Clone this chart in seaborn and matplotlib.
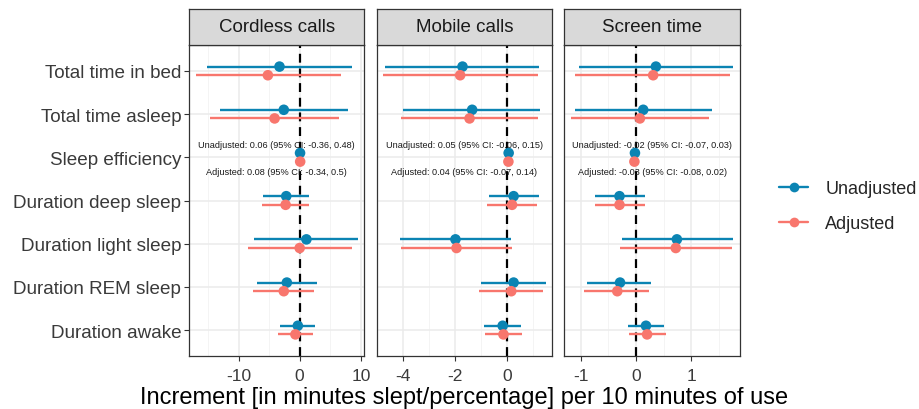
import pandas as pd
import matplotlib
matplotlib.use("Agg")
import matplotlib.pyplot as plt
import seaborn as sns
from matplotlib.lines import Line2D
from matplotlib.ticker import MultipleLocator

# outcomes (top to bottom) and exposures (panels)
outcomes = ["Total time in bed", "Total time asleep", "Sleep efficiency",
            "Duration deep sleep", "Duration light sleep", "Duration REM sleep",
            "Duration awake"]
exposures = ["Cordless calls", "Mobile calls", "Screen time"]
models = ["Unadjusted", "Adjusted"]

# estimates and 95% CI, per exposure and model, ordered like outcomes
cordless_unadj = [-3.3, -2.6, 0.06, -2.2, 1.1, -2.1, -0.3]
cordless_unadj_lo = [-15.1, -13.0, -0.36, -6.0, -7.4, -7.0, -3.3]
cordless_unadj_hi = [8.6, 7.9, 0.48, 1.6, 9.6, 2.8, 2.5]
cordless_adj = [-5.2, -4.1, 0.08, -2.3, 0.0, -2.6, -0.7]
cordless_adj_lo = [-17.0, -14.6, -0.34, -6.1, -8.5, -7.6, -3.6]
cordless_adj_hi = [6.8, 6.4, 0.5, 1.5, 8.6, 2.3, 2.2]

mobile_unadj = [-1.72, -1.35, 0.05, 0.24, -1.99, 0.24, -0.18]
mobile_unadj_lo = [-4.69, -3.99, -0.06, -0.72, -4.12, -1.0, -0.88]
mobile_unadj_hi = [1.23, 1.27, 0.15, 1.21, 0.14, 1.49, 0.53]
mobile_adj = [-1.81, -1.45, 0.04, 0.18, -1.95, 0.15, -0.15]
mobile_adj_lo = [-4.78, -4.08, -0.07, -0.77, -4.08, -1.10, -0.85]
mobile_adj_hi = [1.17, 1.18, 0.14, 1.14, 0.19, 1.38, 0.56]

screen_unadj = [0.36, 0.13, -0.02, -0.30, 0.74, -0.29, 0.18]
screen_unadj_lo = [-1.04, -1.10, -0.07, -0.75, -0.25, -0.88, -0.14]
screen_unadj_hi = [1.75, 1.37, 0.03, 0.16, 1.75, 0.28, 0.51]
screen_adj = [0.31, 0.07, -0.03, -0.30, 0.72, -0.34, 0.20]
screen_adj_lo = [-1.10, -1.17, -0.08, -0.75, -0.29, -0.94, -0.12]
screen_adj_hi = [1.71, 1.32, 0.02, 0.16, 1.73, 0.24, 0.54]

results = {
    ("Cordless calls", "Unadjusted"): (cordless_unadj, cordless_unadj_lo, cordless_unadj_hi),
    ("Cordless calls", "Adjusted"): (cordless_adj, cordless_adj_lo, cordless_adj_hi),
    ("Mobile calls", "Unadjusted"): (mobile_unadj, mobile_unadj_lo, mobile_unadj_hi),
    ("Mobile calls", "Adjusted"): (mobile_adj, mobile_adj_lo, mobile_adj_hi),
    ("Screen time", "Unadjusted"): (screen_unadj, screen_unadj_lo, screen_unadj_hi),
    ("Screen time", "Adjusted"): (screen_adj, screen_adj_lo, screen_adj_hi),
}

dodge = {"Unadjusted": -0.1, "Adjusted": 0.1}
rows = []
for (exp, mod), (est, lo, hi) in results.items():
    for i, out in enumerate(outcomes):
        rows.append(dict(exposure=exp, model=mod, outcome=out, est=est[i],
                         lo=lo[i], hi=hi[i], ypos=i + dodge[mod]))
df = pd.DataFrame(rows)

palette = {"Unadjusted": "#0B84B3", "Adjusted": "#F8766D"}

sns.set_theme(style="white")
plt.rcParams["font.family"] = ["Liberation Sans", "DejaVu Sans"]
plt.rcParams["axes.unicode_minus"] = False

fig = plt.figure(figsize=(9.2, 4.1), dpi=100)
W, H = 920, 410
panel_left = [189, 376.7, 564.3]
panel_w = 175.5
top, bottom = 46, 357
strip_top = 10
xlims = [(-18.1, 10.6), (-5.01, 1.72), (-1.30, 1.88)]
steps = [(10, 5), (2, 1), (1, 0.5)]

for k, exp in enumerate(exposures):
    ax = fig.add_axes([panel_left[k] / W, (H - bottom) / H, panel_w / W, (bottom - top) / H])
    sub = df[df["exposure"] == exp]
    ax.hlines(sub["ypos"], sub["lo"], sub["hi"], colors=sub["model"].map(palette),
              lw=1.7, zorder=3)
    sns.scatterplot(data=sub, x="est", y="ypos", hue="model", palette=palette,
                    s=58, edgecolor="none", legend=False, ax=ax, zorder=4)
    ax.axvline(0, color="black", lw=1.6, ls=(0, (4, 2.6)), zorder=2)

    ax.set_xlim(*xlims[k])
    ax.set_ylim(len(outcomes) - 0.4, -0.6)
    ax.xaxis.set_major_locator(MultipleLocator(steps[k][0]))
    ax.xaxis.set_minor_locator(MultipleLocator(steps[k][1]))
    ax.set_yticks(range(len(outcomes)))
    ax.grid(True, which="major", color="#EBEBEB", lw=1.1, zorder=0)
    ax.grid(True, which="minor", axis="x", color="#F2F2F2", lw=0.6, zorder=0)
    ax.set_axisbelow(True)
    for sp in ax.spines.values():
        sp.set_color("#333333")
        sp.set_linewidth(0.9)
    ax.tick_params(axis="x", which="major", bottom=True, length=3.5, width=0.8,
                   color="#333333", labelsize=12.5, labelcolor="#3A3A3A", pad=5)
    ax.tick_params(axis="x", which="minor", bottom=False)
    if k == 0:
        ax.set_yticklabels(outcomes)
        ax.tick_params(axis="y", left=True, length=3.5, width=0.8, color="#333333",
                       labelsize=13.6, labelcolor="#3A3A3A", pad=2)
    else:
        ax.set_yticklabels([])
        ax.tick_params(axis="y", left=False)
    ax.set_xlabel("")
    ax.set_ylabel("")

    # labels for the sleep efficiency estimates
    i = outcomes.index("Sleep efficiency")
    for mod, dy in (("Unadjusted", -0.29), ("Adjusted", 0.32)):
        r = sub[(sub["model"] == mod) & (sub["outcome"] == "Sleep efficiency")].iloc[0]
        ax.text(0.5, i + dy, f"{mod}: {r.est:g} (95% CI: {r.lo:g}, {r.hi:g})",
                transform=ax.get_yaxis_transform(), ha="center", va="center",
                fontsize=6.6, color="#1A1A1A", zorder=5)

    # facet strip
    sax = fig.add_axes([panel_left[k] / W, (H - top) / H, panel_w / W, (top - strip_top) / H])
    sax.set_facecolor("#D9D9D9")
    sax.set_xticks([])
    sax.set_yticks([])
    for sp in sax.spines.values():
        sp.set_color("#333333")
        sp.set_linewidth(0.9)
    sax.text(0.5, 0.5, exp, ha="center", va="center", fontsize=13.5,
             color="#1A1A1A", transform=sax.transAxes)

fig.text((panel_left[0] + panel_left[2] + panel_w) / 2 / W, 1 - 398 / H,
         "Increment [in minutes slept/percentage] per 10 minutes of use",
         ha="center", va="center", fontsize=17, color="black")

handles = [Line2D([], [], color=palette[m], lw=1.7, marker="o", markersize=7,
                  markeredgewidth=0) for m in models]
fig.legend(handles, models, loc="center left", bbox_to_anchor=(763 / W, 1 - 207 / H),
           frameon=False, fontsize=13, handlelength=1.6, handletextpad=0.95,
           labelspacing=1.0)

fig.savefig("out.png", dpi=100)
